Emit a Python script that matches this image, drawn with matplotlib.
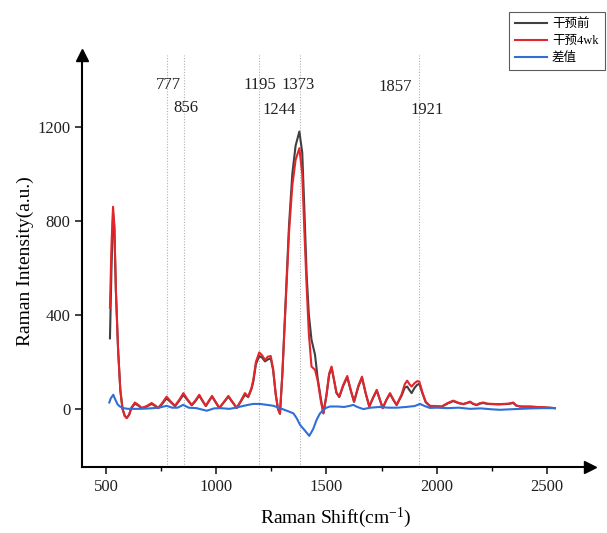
import matplotlib
matplotlib.use("Agg")
import matplotlib.pyplot as plt
from matplotlib.ticker import MultipleLocator

plt.rcParams['font.family'] = ['Liberation Serif', 'Noto Sans CJK SC']
plt.rcParams['mathtext.fontset'] = 'custom'
plt.rcParams['mathtext.rm'] = 'Liberation Serif'
plt.rcParams['mathtext.it'] = 'Liberation Serif:italic'

# ---------------- data ----------------
shift = [518, 525, 532, 538, 545, 555, 565, 575, 585, 594, 605, 615, 631, 645, 662, 685, 707, 722, 737, 755,
         775, 795, 813, 832, 851, 870, 889, 905, 923, 938, 953, 967, 981, 997, 1014, 1035, 1055, 1075, 1093, 1112,
         1130, 1145, 1160, 1168, 1180, 1195, 1208, 1221, 1234, 1247, 1258, 1270, 1280, 1289, 1300, 1315, 1330, 1345, 1360, 1377,
         1390, 1400, 1410, 1420, 1432, 1448, 1460, 1475, 1486, 1500, 1512, 1523, 1535, 1545, 1558, 1575, 1594, 1610, 1625, 1645,
         1661, 1677, 1694, 1712, 1728, 1742, 1755, 1772, 1788, 1803, 1818, 1840, 1855, 1866, 1876, 1886, 1900, 1912, 1921, 1935,
         1950, 1969, 1990, 2022, 2050, 2075, 2100, 2120, 2135, 2151, 2165, 2181, 2195, 2211, 2230, 2256, 2280, 2302, 2325, 2347,
         2360, 2378, 2400, 2423, 2450, 2480, 2510, 2536]

after_4wk = [430, 700, 860, 780, 500, 250, 80, 0, -30, -40, -25, 5, 27, 18, 4, 12, 25, 15, 4, 25,
             52, 30, 13, 38, 67, 40, 17, 35, 60, 35, 13, 35, 55, 30, 4, 30, 55, 28, 4, 35,
             67, 52, 90, 123, 200, 240, 228, 208, 222, 225, 170, 60, 0, -21, 150, 450, 750, 950, 1060, 1109,
             1000, 750, 520, 320, 180, 166, 120, 30, -19, 60, 150, 180, 120, 70, 52, 100, 140, 80, 31, 100,
             137, 70, 10, 50, 81, 40, 3, 40, 67, 40, 17, 60, 105, 120, 105, 95, 110, 118, 116, 70,
             30, 13, 12, 10, 25, 35, 25, 21, 25, 31, 22, 17, 24, 27, 22, 21, 20, 21, 22, 27,
             15, 10, 10, 10, 8, 7, 5, 3]

before = [300, 600, 830, 770, 500, 250, 80, 0, -30, -38, -25, 3, 22, 15, 3, 10, 21, 13, 3, 21,
          45, 27, 11, 34, 60, 37, 15, 32, 56, 33, 12, 33, 52, 28, 4, 28, 52, 26, 4, 32,
          60, 50, 85, 115, 190, 225, 218, 202, 210, 215, 165, 60, 0, -21, 150, 460, 780, 1000, 1120, 1180,
          1090, 840, 570, 400, 294, 230, 130, 40, -19, 58, 145, 175, 118, 68, 50, 96, 135, 78, 30, 96,
          132, 68, 10, 48, 78, 38, 3, 38, 64, 38, 16, 55, 90, 95, 80, 67, 90, 103, 106, 66,
          28, 12, 11, 9, 23, 33, 24, 20, 24, 29, 21, 16, 22, 25, 21, 20, 19, 20, 21, 25,
          14, 10, 9, 9, 8, 6, 5, 3]

diff_x = [515, 522, 533, 542, 552, 563, 580, 600, 650, 700, 740, 775, 800, 825, 850, 875, 910, 957, 990, 1020,
          1060, 1090, 1120, 1150, 1168, 1198, 1230, 1259, 1289, 1320, 1350, 1365, 1380, 1400, 1422, 1440, 1455, 1470, 1486, 1500,
          1516, 1550, 1580, 1607, 1621, 1640, 1667, 1700, 1740, 1780, 1820, 1860, 1900, 1924, 1945, 1969, 2000, 2050, 2100, 2150,
          2200, 2250, 2287, 2330, 2380, 2430, 2480, 2536]
diff_y = [27, 45, 60, 40, 20, 10, 3, 0, 0, 2, 5, 13, 5, 5, 17, 5, 3, -8, 2, 3,
          0, 5, 12, 18, 21, 21, 17, 13, 3, -8, -19, -40, -68, -90, -115, -85, -47, -20, -4, 5,
          10, 10, 8, 13, 17, 8, -1, 5, 8, 5, 5, 8, 12, 21, 12, 4, 5, 3, 5, 0,
          2, -2, -4, -2, 0, 2, 3, 3]

peak_labels = ['777', '856', '1195', '1373', '1244', '1857', '1921']
peak_values = [777, 856, 1195, 1373, 1244, 1857, 1921]
peak_lines = [777, 856, 1195, 1380, 1921]
label_dx = [4, 5, 3, -2, 41, -46, 35]
label_y = [1379, 1281, 1379, 1379, 1272, 1370, 1272]

series_names = ['干预前', '干预4wk', '差值']

# ---------------- figure ----------------
fig = plt.figure(figsize=(6.07, 5.33), dpi=100)
ax = fig.add_axes([0.135, 0.124, 0.837, 0.773])

for v in peak_lines:
    ax.axvline(v, color='#b0b0b0', lw=0.8, ls=(0, (1, 1.5)), zorder=1)

l1, = ax.plot(shift, before, color='#404040', lw=1.5, zorder=3)
l2, = ax.plot(shift, after_4wk, color='#e3262c', lw=1.5, zorder=4)
l3, = ax.plot(diff_x, diff_y, color='#2f6fd8', lw=1.5, zorder=5)

for lab, pv, dx, yy in zip(peak_labels, peak_values, label_dx, label_y):
    ax.text(pv + dx, yy, lab, ha='center', va='center', fontsize=12, color='#202020')

ax.set_xlim(391, 2695)
ax.set_ylim(-247, 1506)
ax.xaxis.set_major_locator(MultipleLocator(500))
ax.xaxis.set_minor_locator(MultipleLocator(250))
ax.set_yticks([0, 400, 800, 1200])
ax.tick_params(axis='both', which='major', direction='out', length=5, width=1.2, labelsize=12, colors='#202020')
ax.tick_params(axis='x', which='minor', direction='out', length=3, width=1.0)
ax.tick_params(axis='y', which='minor', left=False)

for s in ['top', 'right']:
    ax.spines[s].set_visible(False)
for s in ['left', 'bottom']:
    ax.spines[s].set_linewidth(1.5)

ax.plot(1, 0, '>', color='black', markersize=8, transform=ax.transAxes, clip_on=False)
ax.plot(0, 1, '^', color='black', markersize=8, transform=ax.transAxes, clip_on=False)

ax.set_xlabel('Raman Shift(cm$^{\\mathrm{-1}}$)', fontsize=14, labelpad=8)
ax.set_ylabel('Raman Intensity(a.u.)', fontsize=14, labelpad=2)

leg = fig.legend([l1, l2, l3], series_names, loc='upper left', bbox_to_anchor=(0.838, 0.978),
                 fontsize=9, frameon=True, fancybox=False, handlelength=2.6, handletextpad=0.35,
                 borderpad=0.5, labelspacing=0.4, borderaxespad=0)
leg.get_frame().set_edgecolor('#333333')
leg.get_frame().set_linewidth(0.8)

fig.savefig('out.png', dpi=100)
